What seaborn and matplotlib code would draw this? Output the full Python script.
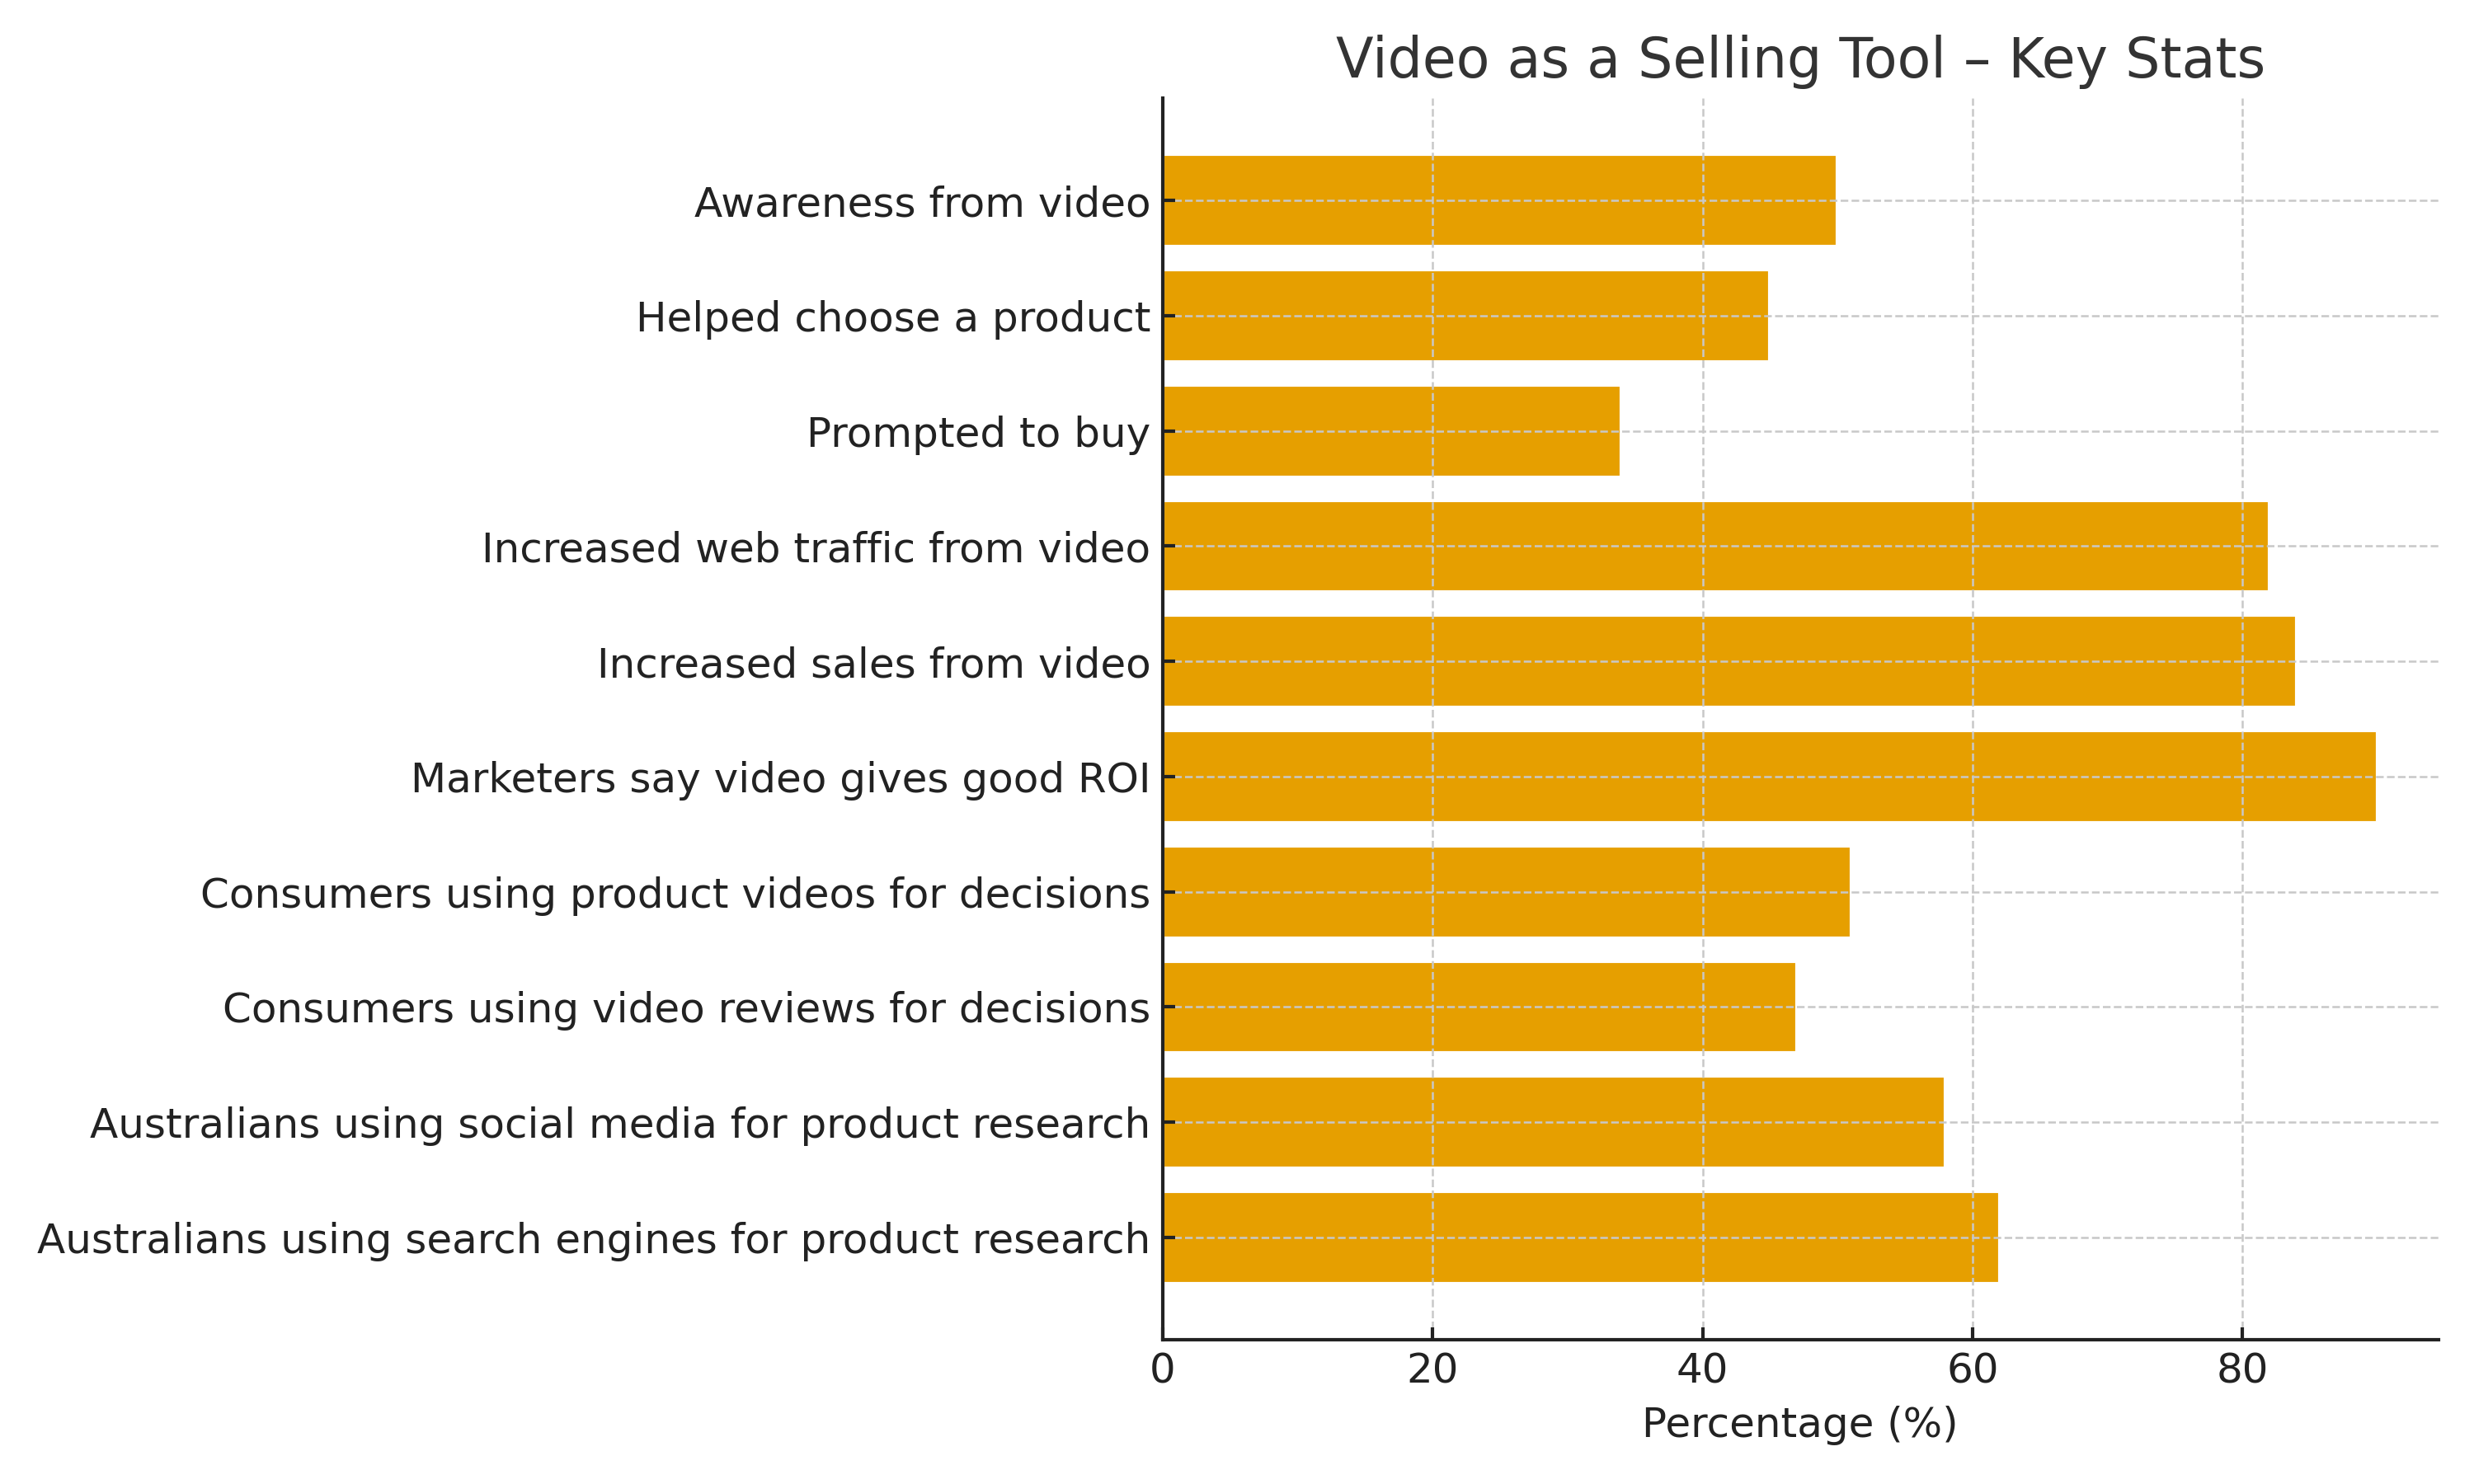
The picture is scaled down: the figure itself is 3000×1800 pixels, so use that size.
import matplotlib
matplotlib.use("Agg")
import matplotlib.pyplot as plt
import seaborn as sns
import pandas as pd

# Chart data
categories = [
    "Awareness from video",
    "Helped choose a product",
    "Prompted to buy",
    "Increased web traffic from video",
    "Increased sales from video",
    "Marketers say video gives good ROI",
    "Consumers using product videos for decisions",
    "Consumers using video reviews for decisions",
    "Australians using social media for product research",
    "Australians using search engines for product research",
]
percentages = [50, 45, 34, 82, 84, 90, 51, 47, 58, 62]

df = pd.DataFrame({"stat": categories, "pct": percentages})

sns.set_style("ticks")
plt.rcParams["font.family"] = ["DejaVu Sans"]
plt.rcParams["text.color"] = "#222222"
plt.rcParams["axes.labelcolor"] = "#222222"
plt.rcParams["xtick.color"] = "#222222"
plt.rcParams["ytick.color"] = "#222222"

fig, ax = plt.subplots(figsize=(10, 6), dpi=300)
sns.barplot(data=df, x="pct", y="stat", color="#E69F00", saturation=1,
            width=0.8, ax=ax)

# same padding matplotlib's barh would give
n = len(categories)
pad = 0.05 * (n - 1 + 0.8)
ax.set_ylim(n - 1 + 0.4 + pad, -0.4 - pad)
ax.set_xlim(0, max(percentages) * 1.05)

ax.set_title("Video as a Selling Tool – Key Stats", fontsize=16, color="#333333")
ax.set_xlabel("Percentage (%)", fontsize=12)
ax.set_ylabel("")
ax.tick_params(axis="both", labelsize=12, direction="in", length=3.5,
               width=1.0, pad=3.5)

ax.set_axisbelow(False)
ax.grid(True, linestyle="--", color="#c8c8c8", linewidth=0.6)
sns.despine(ax=ax)
for s in ["left", "bottom"]:
    ax.spines[s].set_color("#222222")
    ax.spines[s].set_linewidth(1.0)
    ax.spines[s].set_zorder(4)

fig.subplots_adjust(left=0.470, right=0.9855, top=0.934, bottom=0.097)
fig.savefig("out.png", dpi=300)
